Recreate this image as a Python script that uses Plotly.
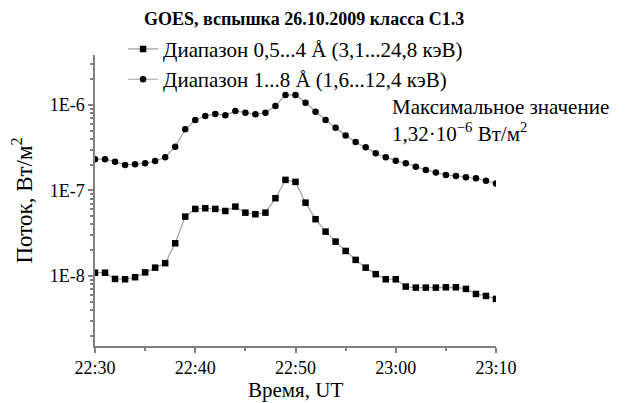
import pandas as pd
import plotly.graph_objects as go

times = pd.date_range("2009-10-26 22:30", periods=41, freq="min")

flux_05_4 = [1.09e-8, 1.09e-8, 9.22e-9, 9.14e-9, 9.66e-9, 1.10e-8, 1.25e-8, 1.41e-8, 2.41e-8, 4.94e-8,
             6.08e-8, 6.19e-8, 6.08e-8, 5.75e-8, 6.47e-8, 5.50e-8, 5.27e-8, 5.50e-8, 8.11e-8, 1.33e-7,
             1.26e-7, 7.20e-8, 4.61e-8, 3.30e-8, 2.52e-8, 1.96e-8, 1.54e-8, 1.25e-8, 1.05e-8, 9.14e-9,
             9.14e-9, 7.50e-9, 7.30e-9, 7.30e-9, 7.30e-9, 7.36e-9, 7.36e-9, 7.05e-9, 6.15e-9, 5.83e-9,
             5.38e-9]

flux_1_8 = [2.32e-7, 2.32e-7, 2.17e-7, 1.99e-7, 2.03e-7, 2.08e-7, 2.21e-7, 2.45e-7, 3.25e-7, 5.20e-7,
            6.68e-7, 7.43e-7, 7.85e-7, 7.58e-7, 8.51e-7, 8.13e-7, 7.78e-7, 8.13e-7, 9.73e-7, 1.31e-6,
            1.31e-6, 1.06e-6, 8.35e-7, 6.68e-7, 5.43e-7, 4.40e-7, 3.69e-7, 3.20e-7, 2.72e-7, 2.45e-7,
            2.23e-7, 2.08e-7, 1.90e-7, 1.74e-7, 1.62e-7, 1.52e-7, 1.48e-7, 1.43e-7, 1.39e-7, 1.30e-7,
            1.21e-7]

names = ["Диапазон 0,5...4 Å (3,1...24,8 кэВ)", "Диапазон 1...8 Å (1,6...12,4 кэВ)"]
ytickvals = [1e-8, 1e-7, 1e-6]
yticktext = ["1E-8", "1E-7", "1E-6"]
xtickvals = pd.date_range("2009-10-26 22:30", periods=5, freq="10min")
xticktext = ["22:30", "22:40", "22:50", "23:00", "23:10"]

FONT = "Liberation Serif, Times New Roman, serif"
LINE = "#a0a0a0"
AX = "#808080"

fig = go.Figure()
fig.add_trace(go.Scatter(x=times, y=flux_05_4, mode="lines+markers", name=names[0],
                         line=dict(color=LINE, width=1.2),
                         marker=dict(symbol="square", size=6.5, color="black")))
fig.add_trace(go.Scatter(x=times, y=flux_1_8, mode="lines+markers", name=names[1],
                         line=dict(color=LINE, width=1.2),
                         marker=dict(symbol="circle", size=6.5, color="black")))

fig.update_layout(
    width=621, height=395,
    margin=dict(l=87, r=133, t=47, b=57),
    paper_bgcolor="white", plot_bgcolor="white",
    font=dict(family=FONT, color="black", size=18),
    title=dict(text="<b>GOES, вспышка 26.10.2009 класса C1.3</b>",
               font=dict(family=FONT, size=18), x=0.477, xanchor="center", y=0.972, yanchor="middle"),
    legend=dict(x=0.07, y=1.09, xanchor="left", yanchor="top", bgcolor="rgba(0,0,0,0)",
                font=dict(family=FONT, size=21), tracegroupgap=0, itemwidth=30),
    showlegend=True,
)

fig.update_xaxes(
    range=[times[0], times[-1]], automargin=False,
    tickvals=xtickvals, ticktext=xticktext,
    showline=True, linecolor=AX, linewidth=1.5,
    ticks="outside", ticklen=5, tickcolor=AX, tickwidth=1.5,
    minor=dict(ticks="outside", ticklen=3, tickcolor=AX, dtick=300000, showgrid=False),
    showgrid=False, zeroline=False,
    tickfont=dict(family=FONT, size=18),
)
fig.update_yaxes(
    type="log", range=[-8.82, -5.415], automargin=False,
    tickvals=ytickvals, ticktext=yticktext,
    showline=True, linecolor=AX, linewidth=1.5,
    ticks="outside", ticklen=5, tickcolor=AX, tickwidth=1.5,
    minor=dict(ticks="outside", ticklen=3, tickcolor=AX, dtick="D1", showgrid=False),
    showgrid=False, zeroline=False,
    tickfont=dict(family=FONT, size=18),
    title=dict(text="Поток, Вт/м<sup>2</sup>", font=dict(family=FONT, size=23), standoff=21),
)

fig.add_annotation(
    xref="paper", yref="paper", x=0.5, y=-0.152, xanchor="center", yanchor="middle",
    text="Время, UT", showarrow=False, font=dict(family=FONT, size=21),
)

fig.add_annotation(
    xref="paper", yref="paper", x=0.735, y=0.87, xanchor="left", yanchor="top",
    text="Максимальное значение<br>1,32·10<sup>−6</sup> Вт/м<sup>2</sup>",
    showarrow=False, align="left", font=dict(family=FONT, size=21),
)

fig.write_html("out.html")
